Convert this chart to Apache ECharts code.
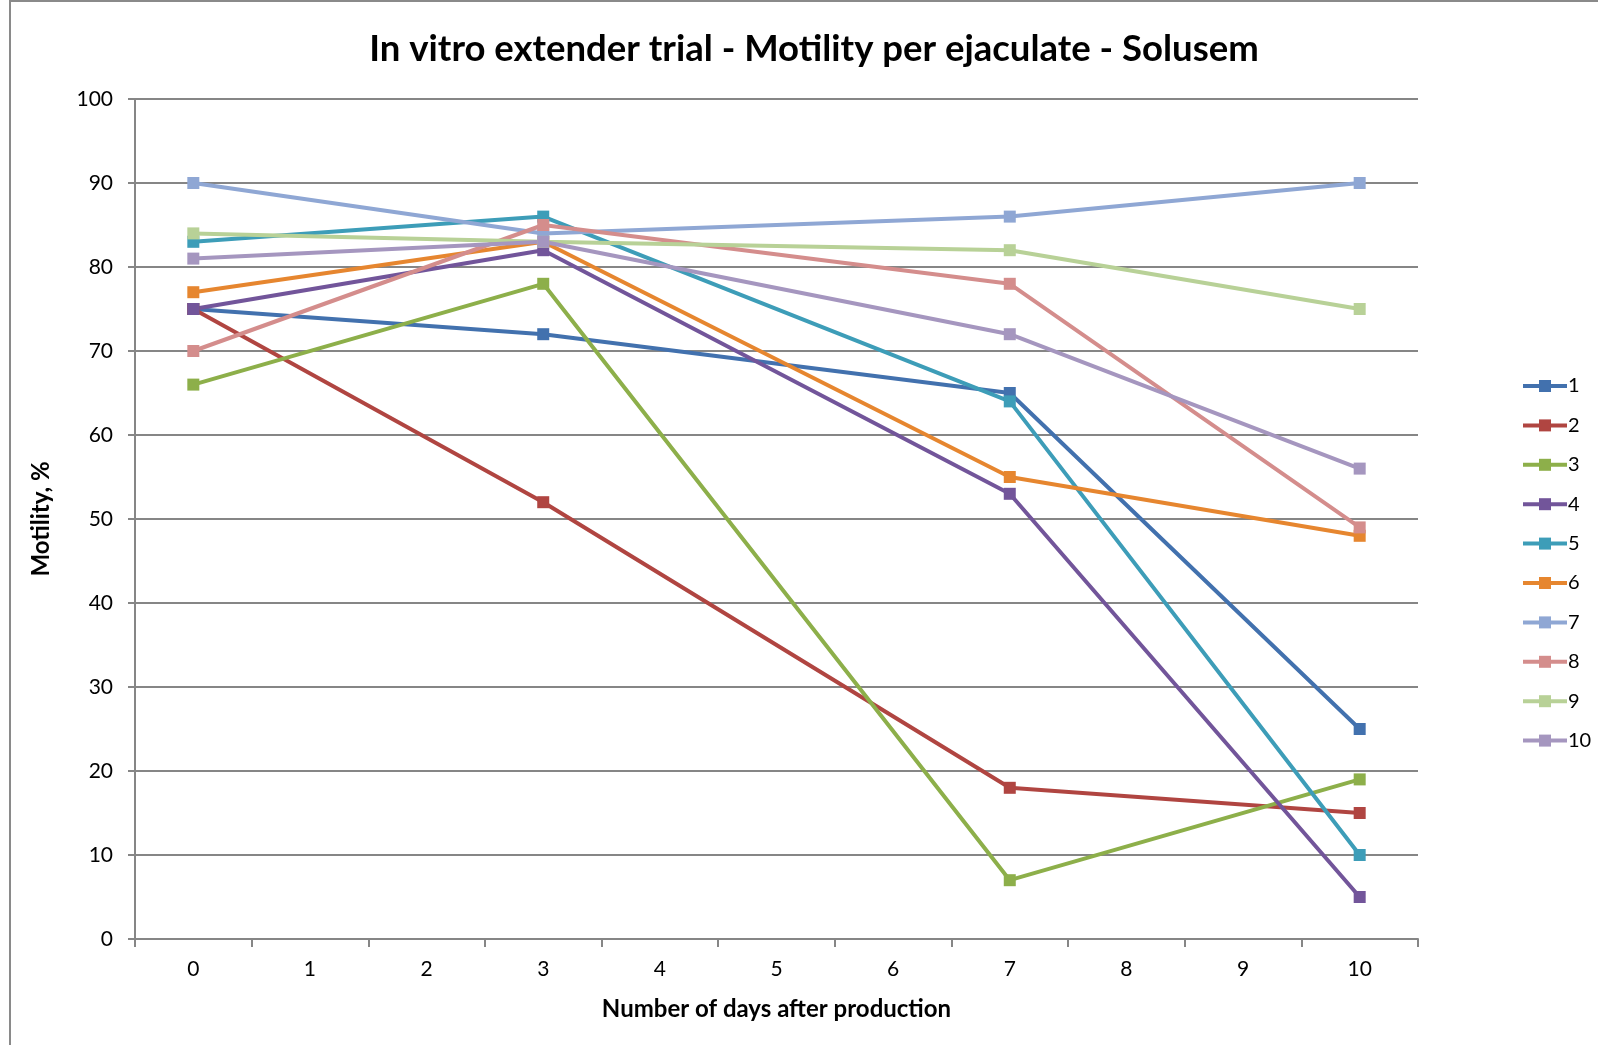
<!DOCTYPE html>
<html><head><meta charset="utf-8">
<script src="https://cdn.jsdelivr.net/npm/echarts@6/dist/echarts.min.js"></script>
<style>html,body{margin:0;padding:0;background:#fff}#c{width:1598px;height:1045px}</style>
</head><body><div id="c"></div>
<script>
const days = ['0','1','2','3','4','5','6','7','8','9','10'];
const names = ['1','2','3','4','5','6','7','8','9','10'];
const colors = ['#4271AE','#B04541','#8DAF4A','#72559A','#3D9DB8','#E6862F','#8FA7D4','#D48D8C','#B8D197','#A596BF'];
// values at days 0,1,...,10 (null where not measured)
const s1  = [75,null,null,72,null,null,null,65,null,null,25];
const s2  = [75,null,null,52,null,null,null,18,null,null,15];
const s3  = [66,null,null,78,null,null,null,7,null,null,19];
const s4  = [75,null,null,82,null,null,null,53,null,null,5];
const s5  = [83,null,null,86,null,null,null,64,null,null,10];
const s6  = [77,null,null,83,null,null,null,55,null,null,48];
const s7  = [90,null,null,84,null,null,null,86,null,null,90];
const s8  = [70,null,null,85,null,null,null,78,null,null,49];
const s9  = [84,null,null,83,null,null,null,82,null,null,75];
const s10 = [81,null,null,83,null,null,null,72,null,null,56];
const yTicks = [0,10,20,30,40,50,60,70,80,90,100];
const allSeries = [s1,s2,s3,s4,s5,s6,s7,s8,s9,s10];

const font = 'Lato, "Open Sans", sans-serif';
const chart = echarts.init(document.getElementById('c'));
chart.setOption({
  animation: false,
  color: colors,
  title: {
    text: 'In vitro extender trial - Motility per ejaculate - Solusem',
    left: 809, top: 26, textAlign: 'center',
    textStyle: {fontFamily: font, fontSize: 36.5, fontWeight: 'bold', color: '#000'}
  },
  graphic: [{type: 'rect', shape: {x: 10, y: 1, width: 1700, height: 1200},
    style: {fill: 'none', stroke: '#8a8a8a', lineWidth: 2}, silent: true}],
  legend: {
    orient: 'vertical', left: 1516, top: 371, itemGap: 19.4,
    itemWidth: 44, itemHeight: 15,
    lineStyle: {width: 4},
    textStyle: {fontFamily: font, fontSize: 20, lineHeight: 20, color: '#000', padding: [0,0,0,-4]},
    data: names
  },
  grid: {left: 135, right: 180, top: 99, bottom: 106},
  xAxis: {
    type: 'category', data: days, boundaryGap: true,
    name: 'Number of days after production', nameLocation: 'middle', nameGap: 58,
    nameTextStyle: {fontFamily: font, fontSize: 24, fontWeight: 'bold', color: '#000'},
    axisLine: {lineStyle: {color: '#868686', width: 2}},
    axisTick: {show: true, inside: false, length: 8, lineStyle: {color: '#868686', width: 2}},
    axisLabel: {fontFamily: font, fontSize: 21, color: '#000', margin: 20}
  },
  yAxis: {
    type: 'value', min: yTicks[0], max: yTicks[yTicks.length-1], interval: 10,
    name: 'Motility, %', nameLocation: 'middle', nameGap: 82, nameRotate: 90,
    nameTextStyle: {fontFamily: font, fontSize: 24, fontWeight: 'bold', color: '#000'},
    axisLine: {show: true, lineStyle: {color: '#868686', width: 2}},
    axisTick: {show: true, length: 7, lineStyle: {color: '#868686', width: 2}},
    axisLabel: {fontFamily: font, fontSize: 21, color: '#000', margin: 22},
    splitLine: {show: true, lineStyle: {color: '#868686', width: 2}}
  },
  series: allSeries.map((d, i) => ({
    name: names[i], type: 'line', data: d, connectNulls: true,
    symbol: 'rect', symbolSize: 12, showSymbol: true,
    lineStyle: {width: 4, color: colors[i]},
    itemStyle: {color: colors[i]}
  }))
});
</script></body></html>
